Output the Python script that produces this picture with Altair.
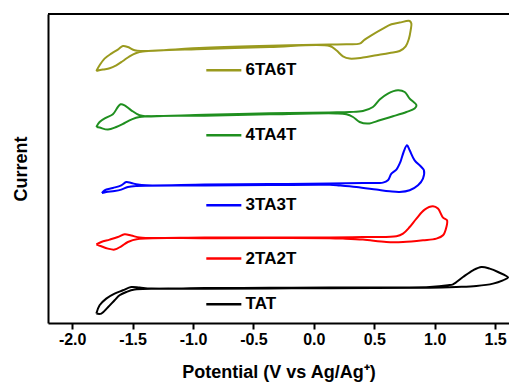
import altair as alt
import pandas as pd

SERIES = ["6TA6T", "4TA4T", "3TA3T", "2TA2T", "TAT"]
COLORS = ["#9a9a1e", "#1f8f1f", "#0000ff", "#ff0000", "#000000"]

# cyclic voltammograms, traced as closed loops (potential V vs Ag/Ag+, current a.u. incl. offset)
v_6TA6T = [-1.800, -1.773, -1.732, -1.676, -1.622, -1.580, -1.539, -1.483, -1.428, -0.904, -0.366, 0.131,
           0.269, 0.379, 0.421, 0.476, 0.572, 0.642, 0.710, 0.793, 0.807, 0.801, 0.787, 0.760, 0.710, 0.627,
           0.517, 0.406, 0.296, 0.241, 0.186, 0.131, -0.366, -0.904, -1.415, -1.469, -1.525, -1.580, -1.635,
           -1.690, -1.746, -1.800]
i_6TA6T = [252.0, 257.7, 264.4, 269.4, 273.4, 277.0, 276.0, 272.7, 272.0, 275.2, 277.2, 278.4,
           278.7, 279.4, 283.4, 287.7, 294.4, 298.7, 300.4, 302.0, 299.4, 292.7, 284.4, 276.7, 272.0, 270.0,
           267.7, 265.4, 264.4, 266.7, 272.7, 277.0, 276.0, 274.0, 271.5, 270.0, 266.7, 262.0, 257.7,
           254.7, 253.4, 252.0]

v_4TA4T = [-1.800, -1.773, -1.718, -1.663, -1.622, -1.599, -1.566, -1.511, -1.442, -1.387, -0.904, -0.366,
           0.131, 0.296, 0.406, 0.489, 0.545, 0.613, 0.696, 0.752, 0.793, 0.849, 0.834, 0.766, 0.655, 0.545,
           0.448, 0.379, 0.324, 0.269, 0.186, -0.366, -0.904, -1.442, -1.511, -1.566, -1.635, -1.704, -1.773,
           -1.800]
i_4TA4T = [196.0, 201.0, 205.4, 208.7, 216.0, 218.7, 217.7, 212.7, 207.7, 206.7, 208.2, 209.7,
           210.6, 211.0, 212.0, 216.0, 223.4, 229.4, 232.7, 231.0, 224.4, 217.7, 214.4, 211.0, 206.7, 202.7,
           199.4, 201.0, 206.0, 208.7, 209.6, 208.7, 207.3, 206.0, 203.4, 200.0, 196.0, 193.4, 195.4,
           196.0]

v_3TA3T = [-1.754, -1.732, -1.663, -1.594, -1.552, -1.511, -1.456, -1.387, -0.904, -0.366, 0.131, 0.406,
           0.572, 0.613, 0.642, 0.683, 0.716, 0.743, 0.771, 0.793, 0.834, 0.890, 0.911, 0.903, 0.862, 0.793,
           0.710, 0.627, 0.517, 0.352, 0.214, 0.131, -0.366, -0.904, -1.469, -1.539, -1.594, -1.649, -1.718,
           -1.754]
i_3TA3T = [130.0, 132.7, 135.0, 137.7, 141.0, 140.0, 138.4, 137.7, 138.4, 138.9, 139.4, 140.0,
           140.4, 142.7, 149.4, 153.4, 161.0, 171.0, 177.7, 172.7, 162.7, 156.0, 152.7, 144.4, 137.7, 132.7,
           131.0, 131.7, 133.4, 136.0, 137.5, 138.2, 137.9, 137.5, 137.0, 136.0, 133.4, 132.0, 131.0,
           130.0]

v_2TA2T = [-1.800, -1.759, -1.690, -1.622, -1.566, -1.511, -1.442, -1.373, -0.904, -0.366, 0.131, 0.406,
           0.683, 0.738, 0.793, 0.849, 0.917, 0.986, 1.027, 1.069, 1.102, 1.097, 1.069, 1.014, 0.903, 0.738,
           0.600, 0.406, 0.241, 0.131, -0.366, -0.904, -1.456, -1.539, -1.594, -1.649, -1.704, -1.759,
           -1.800]
i_2TA2T = [78.7, 81.0, 83.4, 86.0, 88.7, 87.4, 85.4, 85.0, 85.4, 85.6, 85.6, 86.0,
           86.7, 89.4, 96.0, 104.4, 113.4, 116.7, 114.4, 105.4, 102.7, 96.0, 87.7, 84.4, 82.7, 81.0,
           81.0, 83.4, 84.4, 84.8, 84.9, 84.8, 84.0, 81.0, 76.7, 73.4, 74.4, 76.7,
           78.7]

v_TAT = [-1.800, -1.773, -1.718, -1.649, -1.580, -1.511, -1.442, -1.345, -0.904, -0.366, 0.131, 0.959,
         1.110, 1.152, 1.234, 1.317, 1.387, 1.455, 1.524, 1.607, 1.565, 1.483, 1.345, 1.180, 0.959, 0.131,
         -0.366, -0.904, -1.483, -1.552, -1.608, -1.649, -1.704, -1.759, -1.800]
i_TAT = [9.4, 17.7, 24.4, 29.4, 32.7, 36.0, 35.4, 34.4, 34.9, 35.2, 35.4, 36.0,
         37.7, 38.7, 46.0, 52.7, 56.0, 54.4, 51.0, 45.4, 42.7, 39.4, 37.0, 36.0, 35.2, 34.8,
         34.6, 34.3, 33.4, 31.0, 27.7, 22.7, 15.7, 9.4, 9.4]

# in-plot labels (line sample + name)
label_v_start = -0.890
label_v_end = -0.600
label_v_text = -0.565
label_i = [252.7, 187.7, 117.7, 64.4, 18.7]

X_TICKS = [-2.0, -1.75, -1.5, -1.25, -1.0, -0.75, -0.5, -0.25, 0.0, 0.25, 0.5, 0.75, 1.0, 1.25, 1.5]

W, H = 461, 309
FONT = "Liberation Sans"

curves = {"6TA6T": (v_6TA6T, i_6TA6T), "4TA4T": (v_4TA4T, i_4TA4T), "3TA3T": (v_3TA3T, i_3TA3T),
          "2TA2T": (v_2TA2T, i_2TA2T), "TAT": (v_TAT, i_TAT)}
rows = []
for name, (vs, cs) in curves.items():
    for k, (v, c) in enumerate(zip(vs, cs)):
        rows.append({"series": name, "V": v, "I": c, "k": k})
df = pd.DataFrame(rows)

lab = pd.DataFrame({"series": SERIES, "v0": [label_v_start] * 5, "v1": [label_v_end] * 5,
                    "vt": [label_v_text] * 5, "I": label_i})

xscale = alt.Scale(domain=[-2.2, 1.615], nice=False, zero=False)
yscale = alt.Scale(domain=[0, 309], nice=False, zero=False)
cscale = alt.Scale(domain=SERIES, range=COLORS)

MAJOR_TEST = "abs(datum.value*2 - round(datum.value*2)) < 0.01"
xaxis = alt.Axis(values=X_TICKS, title="Potential (V vs Ag/Ag\u207a)",
                 labelExpr=MAJOR_TEST + " ? replace(format(datum.value, '.1f'), '\u2212', '-') : ''",
                 tickSize={"condition": {"test": MAJOR_TEST, "value": 6}, "value": 4},
                 tickWidth=2, tickColor="black", domainColor="black", domainWidth=2, grid=False,
                 labelFont=FONT, labelFontSize=16, labelFontWeight="bold", labelColor="black", labelPadding=2,
                 titleFont=FONT, titleFontSize=18, titleFontWeight="bold", titleColor="black", titlePadding=16,
                 labelFlush=False, labelOverlap=False)
yaxis = alt.Axis(title="Current", ticks=False, labels=False, grid=False, domainColor="black", domainWidth=2,
                 titleFont=FONT, titleFontSize=18, titleFontWeight="bold", titleColor="black", titlePadding=18)

lines = alt.Chart(df).mark_line(strokeWidth=2, clip=True, interpolate="catmull-rom").encode(
    x=alt.X("V:Q", scale=xscale, axis=xaxis),
    y=alt.Y("I:Q", scale=yscale, axis=yaxis),
    color=alt.Color("series:N", scale=cscale, legend=None),
    detail="series:N",
    order="k:Q",
)

legend_lines = alt.Chart(lab).mark_rule(strokeWidth=2.5).encode(
    x="v0:Q", x2="v1:Q", y="I:Q",
    color=alt.Color("series:N", scale=cscale, legend=None),
)
legend_text = alt.Chart(lab).mark_text(align="left", baseline="middle", font=FONT, fontSize=17,
                                       fontWeight="bold", color="black").encode(
    x="vt:Q", y="I:Q", text="series:N",
)
top_border = alt.Chart(lab).mark_rule(strokeWidth=2, color="black").encode(
    x=alt.value(0), x2=alt.value(W), y=alt.value(0)
)

chart = alt.layer(lines, legend_lines, legend_text, top_border).properties(
    width=W, height=H,
    autosize=alt.AutoSizeParams(type="none"),
    padding={"left": 48, "top": 14, "right": 0, "bottom": 59},
    background="white",
).configure_view(stroke=None)

chart.save("out.html", embed_options={"renderer": "svg", "actions": False})
